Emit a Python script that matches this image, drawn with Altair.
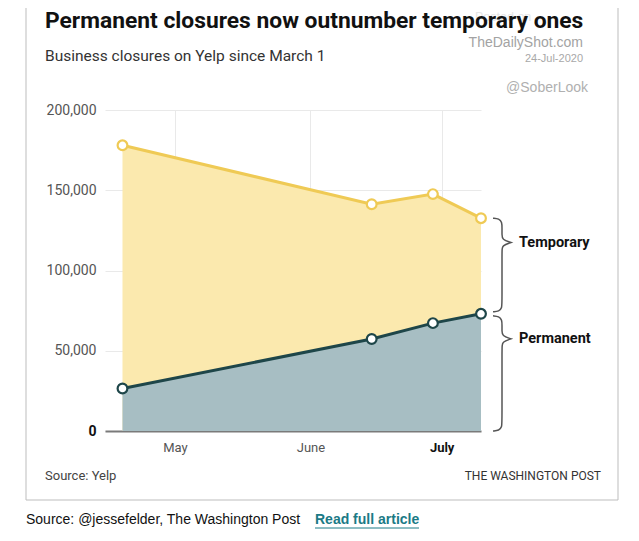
import altair as alt
import pandas as pd

# ---------------- data ----------------
dates = ["2020-04-19", "2020-06-15", "2020-06-29", "2020-07-10"]
total_closed = [178000, 141300, 147600, 132600]   # top of yellow area (all closures)
permanent = [26500, 57300, 67200, 73000]          # permanent closures
month_ticks = ["2020-05-01", "2020-06-01", "2020-07-01"]
y_ticks = [0, 50000, 100000, 150000, 200000]
series_labels = ["Temporary", "Permanent"]

title_text = "Permanent closures now outnumber temporary ones"
subtitle_text = "Business closures on Yelp since March 1"
source_text = "Source: Yelp"
brand_text = "THE WASHINGTON POST"
wm_texts = ["Posted on", "TheDailyShot.com", "24-Jul-2020", "@SoberLook"]
footer_text = "Source: @jessefelder, The Washington Post"
link_text = "Read full article"

# ---------------- layout ----------------
W, H = 376, 321
X_DOMAIN = ["2020-04-15", "2020-07-10"]
Y_MAX = 200000
FONT = "Roboto"


def ms(s):
    return int(pd.Timestamp(s, tz="UTC").value // 10**6)


def iso(v):
    return pd.Timestamp(int(v), unit="ms", tz="UTC").strftime("%Y-%m-%dT%H:%M:%S.000Z")


x0_ms, x1_ms = ms(X_DOMAIN[0]), ms(X_DOMAIN[1])
MS_PER_PX = (x1_ms - x0_ms) / W
VAL_PER_PX = Y_MAX / H

df = pd.DataFrame({
    "date": [d + "T00:00:00.000Z" for d in dates],
    "total": total_closed,
    "permanent": permanent,
})

x_scale = alt.Scale(type="utc", domain=[x0_ms, x1_ms])
y_scale = alt.Scale(domain=[0, Y_MAX], nice=False)

x_enc = alt.X(
    "date:T", scale=x_scale, title=None,
    axis=alt.Axis(
        values=[ms(m) for m in month_ticks],
        labelExpr="utcFormat(datum.value, '%B')",
        labelFontWeight={"expr": "utcmonth(datum.value) == 6 ? 'bold' : 'normal'"},
        labelColor={"expr": "utcmonth(datum.value) == 6 ? '#111111' : '#555555'"},
        labelFont=FONT, labelFontSize=13, labelPadding=10,
        grid=True, gridColor="#e9e9e9", gridWidth=1,
        domain=True, domainColor="#7a7a7a", domainWidth=2,
        ticks=False,
    ),
)
y_axis = alt.Axis(
    values=y_ticks,
    labelExpr="format(datum.value, ',.0f')",
    labelFontWeight={"expr": "datum.value == 0 ? 'bold' : 'normal'"},
    labelColor={"expr": "datum.value == 0 ? '#111111' : '#555555'"},
    labelFont=FONT, labelFontSize=14, labelPadding=9,
    grid=True, gridColor="#e9e9e9", gridWidth=1,
    domain=False, ticks=False,
)

base = alt.Chart(df)

area_total = base.mark_area(color="#fbe9ae", opacity=1).encode(
    x=x_enc, y=alt.Y("total:Q", scale=y_scale, axis=y_axis, title=None)
)
area_perm = base.mark_area(color="#a7bec3", opacity=1).encode(
    x="date:T", y=alt.Y("permanent:Q")
)
line_total = base.mark_line(color="#efca55", strokeWidth=3).encode(
    x="date:T", y="total:Q"
)
line_perm = base.mark_line(color="#1e4649", strokeWidth=3).encode(
    x="date:T", y="permanent:Q"
)
pts_total = base.mark_point(filled=True, fill="white", stroke="#efca55",
                            strokeWidth=2.2, size=95, opacity=1).encode(
    x="date:T", y="total:Q"
)
pts_perm = base.mark_point(filled=True, fill="white", stroke="#1e4649",
                           strokeWidth=2.2, size=95, opacity=1).encode(
    x="date:T", y="permanent:Q"
)

# ---------------- braces derived from the last values ----------------
last_ms = ms(dates[-1])
brace_start_px = 12   # offset of brace from last point (style)


def brace_points(top_val, bot_val, name, tip_frac):
    top_px = (Y_MAX - top_val) / VAL_PER_PX
    bot_px = (Y_MAX - bot_val) / VAL_PER_PX
    L = bot_px - top_px
    tip = tip_frac * L
    shape = [(0, 0), (6, 0.5), (9, 4), (9, 10), (9, tip - 8), (9, tip - 3),
             (18, tip), (18, tip), (18, tip), (9, tip + 3), (9, tip + 8),
             (9, L - 10), (9, L - 4), (6, L - 0.5), (0, L)]
    rows = []
    for i, (dx, dy) in enumerate(shape):
        rows.append({
            "name": name, "order": i,
            "bx": iso(last_ms + (brace_start_px + dx) * MS_PER_PX),
            "by": top_val - dy * VAL_PER_PX,
        })
    label_row = {
        "name": name,
        "lx": iso(last_ms + (brace_start_px + 26) * MS_PER_PX),
        "ly": top_val - tip * VAL_PER_PX,
    }
    return rows, label_row


gap = 2 * VAL_PER_PX
r1, l1 = brace_points(total_closed[-1], permanent[-1] + gap, series_labels[0], 0.26)
r2, l2 = brace_points(permanent[-1] - gap, 0, series_labels[1], 0.2)
brace_df = pd.DataFrame(r1 + r2)
blabel_df = pd.DataFrame([l1, l2])

braces = alt.Chart(brace_df).mark_line(
    color="#555555", strokeWidth=1.5, interpolate="basis"
).encode(
    x=alt.X("bx:T", scale=x_scale),
    y=alt.Y("by:Q", scale=y_scale),
    detail="name:N",
    order="order:Q",
)
brace_labels = alt.Chart(blabel_df).mark_text(
    align="left", baseline="middle", font=FONT, fontSize=14.5,
    fontWeight="bold", color="#111111"
).encode(
    x=alt.X("lx:T", scale=x_scale), y=alt.Y("ly:Q", scale=y_scale), text="name:N"
)


# ---------------- fixed annotation texts ----------------
def txt(text, x, y, size, color, weight="normal", align="left", font=FONT):
    return alt.Chart(pd.DataFrame({"t": [text]})).mark_text(
        align=align, baseline="middle", fontSize=size, color=color,
        fontWeight=weight, font=font
    ).encode(x=alt.value(x), y=alt.value(y), text="t:N")


card = alt.Chart(pd.DataFrame({"a": [0]})).mark_rect(
    fill=None, stroke="#bdbdbd", strokeWidth=1
).encode(x=alt.value(-79), x2=alt.value(513), y=alt.value(-140), y2=alt.value(390))

underline = alt.Chart(pd.DataFrame({"a": [0]})).mark_rule(
    color="#1b7a86", strokeWidth=1
).encode(x=alt.value(210), x2=alt.value(314), y=alt.value(418))

texts = [
    txt(wm_texts[0], 370, -93, 12.5, "#e6e6e6", font="Liberation Sans"),
    txt(title_text, -60, -89, 22.8, "#111111", weight="bold"),
    txt(subtitle_text, -60, -54, 15.5, "#333333"),
    txt(wm_texts[1], 478, -67, 14, "#a3a3a3", align="right", font="Liberation Sans"),
    txt(wm_texts[2], 478, -51, 11, "#a8a8a8", align="right", font="Liberation Sans"),
    txt(wm_texts[3], 483, -22, 14, "#b0b0b0", align="right", font="Liberation Sans"),
    txt(source_text, -60, 366, 13, "#444444"),
    txt(brand_text, 496, 366, 12, "#333333", align="right"),
    txt(footer_text, -79, 410, 14, "#111111", font="Liberation Sans"),
    txt(link_text, 210, 410, 14, "#1b7a86", weight="bold", font="Liberation Sans"),
]

chart = alt.layer(
    area_total, area_perm, line_total, line_perm, pts_total, pts_perm,
    braces, brace_labels, card, underline, *texts
).properties(
    width=W, height=H,
    autosize=alt.AutoSizeParams(type="none"),
    padding={"left": 97, "top": 102, "right": 150, "bottom": 102},
    background="white",
).configure_view(stroke=None)

chart.save("out.html", embed_options={"renderer": "svg", "actions": False})
